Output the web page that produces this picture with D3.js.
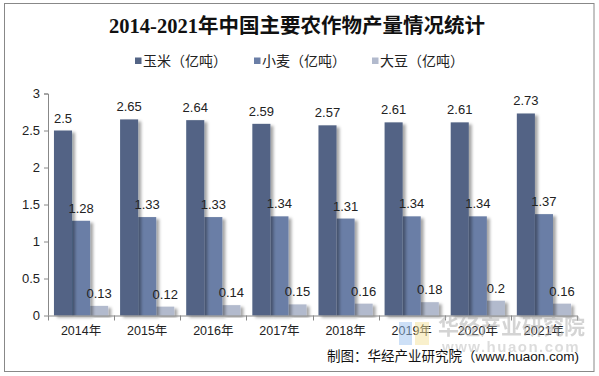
<!DOCTYPE html>
<html>
<head>
<meta charset="utf-8">
<script src="https://cdn.jsdelivr.net/npm/d3@7"></script>
<style>
  body { margin: 0; background: #fff; }
  svg text { font-family: Arial, "Liberation Sans", "Noto Sans CJK SC", sans-serif; }
</style>
</head>
<body>
<div class="canvas"></div>
<script>
const years = ["2014年", "2015年", "2016年", "2017年", "2018年", "2019年", "2020年", "2021年"];
const seriesNames = ["玉米（亿吨）", "小麦（亿吨）", "大豆（亿吨）"];
const corn = [2.5, 2.65, 2.64, 2.59, 2.57, 2.61, 2.61, 2.73];
const wheat = [1.28, 1.33, 1.33, 1.34, 1.31, 1.34, 1.34, 1.37];
const soybean = [0.13, 0.12, 0.14, 0.15, 0.16, 0.18, 0.2, 0.16];
const yTicks = [0, 0.5, 1, 1.5, 2, 2.5, 3];
const colors = ["#536485", "#6a7ea6", "#b2bacd"];

const totalWidth = 599, totalHeight = 376;
const margin = { top: 93.5, right: 22, bottom: 60.5, left: 48 };
const graphWidth = totalWidth - margin.left - margin.right;
const graphHeight = totalHeight - margin.top - margin.bottom;

const svg = d3.select(".canvas").append("svg")
  .attr("width", totalWidth).attr("height", totalHeight);

// drop shadow for the bars
const defs = svg.append("defs");
const f = defs.append("filter").attr("id", "shadow")
  .attr("x", "-20%").attr("y", "-10%").attr("width", "160%").attr("height", "130%");
f.append("feDropShadow").attr("dx", 3).attr("dy", 2).attr("stdDeviation", 1.6)
  .attr("flood-color", "#000").attr("flood-opacity", 0.35);

svg.append("rect").attr("x", 4.5).attr("y", 3.5).attr("width", 589.5).attr("height", 368)
  .attr("fill", "#fff").attr("stroke", "#888").attr("stroke-width", 1);

svg.append("text").attr("x", 297).attr("y", 33).attr("text-anchor", "middle")
  .style("font-family", "'Liberation Serif', 'Noto Sans CJK SC', serif")
  .style("font-size", "20.5px").style("font-weight", "bold").attr("fill", "#111")
  .text("2014-2021年中国主要农作物产量情况统计");

// legend
const legendX = [135, 254, 372];
const legend = svg.append("g");
seriesNames.forEach((name, i) => {
  legend.append("rect").attr("x", legendX[i]).attr("y", 57.5).attr("width", 6.5).attr("height", 6.5)
    .attr("fill", colors[i]);
  legend.append("text").attr("x", legendX[i] + 8).attr("y", 66)
    .style("font-size", "14px").attr("fill", "#222").text(name);
});

const graph = svg.append("g").attr("transform", `translate(${margin.left},${margin.top})`);

const x0 = d3.scaleBand().domain(years).range([0, graphWidth]).paddingInner(0.18).paddingOuter(0.09);
const x1 = d3.scaleBand().domain(d3.range(3)).range([0, x0.bandwidth()]);
const y = d3.scaleLinear().domain([0, 3]).range([graphHeight, 0]);

const groups = graph.selectAll("g.year").data(years).enter().append("g")
  .attr("transform", d => `translate(${x0(d)},0)`);

const allSeries = [corn, wheat, soybean];
// back to front so each bar's shadow falls behind its neighbour
[2, 1, 0].forEach(s => {
  groups.append("rect")
    .attr("x", (d, i) => x1(s))
    .attr("y", (d, i) => y(allSeries[s][i]))
    .attr("width", x1.bandwidth())
    .attr("height", (d, i) => graphHeight - y(allSeries[s][i]))
    .attr("fill", colors[s])
    .attr("filter", "url(#shadow)");
});
[0, 1, 2].forEach(s => {
  groups.append("text")
    .attr("x", x1(s) + x1.bandwidth() / 2)
    .attr("y", (d, i) => y(allSeries[s][i]) - 8)
    .attr("text-anchor", "middle")
    .style("font-size", "13px").attr("fill", "#222")
    .text((d, i) => allSeries[s][i]);
});

// axes
const yAxis = d3.axisLeft(y).tickValues(yTicks).tickSize(4).tickFormat(d => d);
const yg = graph.append("g").call(yAxis);
yg.select(".domain").attr("stroke", "#888").attr("d", `M-4,0.5H0.5V${graphHeight}`);
yg.selectAll(".tick line").attr("stroke", "#888");
yg.selectAll("text").style("font-size", "13px").attr("fill", "#222").attr("x", -8);

const xg = graph.append("g").attr("transform", `translate(0,${graphHeight})`);
xg.append("line").attr("x1", 0).attr("x2", graphWidth).attr("y1", 0.5).attr("y2", 0.5).attr("stroke", "#888");
xg.selectAll("line.t").data(d3.range(years.length + 1)).enter().append("line")
  .attr("x1", i => Math.round(i * graphWidth / years.length) + 0.5)
  .attr("x2", i => Math.round(i * graphWidth / years.length) + 0.5)
  .attr("y1", 0).attr("y2", 5).attr("stroke", "#888");
xg.selectAll("text").data(years).enter().append("text")
  .attr("x", d => x0(d) + x0.bandwidth() / 2).attr("y", 19.5)
  .attr("text-anchor", "middle").style("font-size", "12.5px").attr("fill", "#222")
  .text(d => d);

// watermark
const wm = svg.append("g").attr("opacity", 0.5);
wm.append("rect").attr("x", 399).attr("y", 322).attr("width", 13).attr("height", 23).attr("fill", "#9cc3f0");
wm.append("rect").attr("x", 415).attr("y", 322).attr("width", 14).attr("height", 23).attr("fill", "#f5e39a");
wm.append("text").attr("x", 438).attr("y", 334).style("font-size", "21px").style("font-weight", "bold")
  .attr("fill", "#aaa").text("华经产业研究院");
wm.append("text").attr("x", 442).attr("y", 352).style("font-size", "15px").style("font-weight", "bold")
  .attr("fill", "#bbb").attr("letter-spacing", 1.5).text("www.huaon.com");

svg.append("text").attr("x", 579).attr("y", 361).attr("text-anchor", "end")
  .style("font-size", "13.5px").attr("fill", "#111")
  .text("制图：华经产业研究院（www.huaon.com)");
</script>
</body>
</html>
